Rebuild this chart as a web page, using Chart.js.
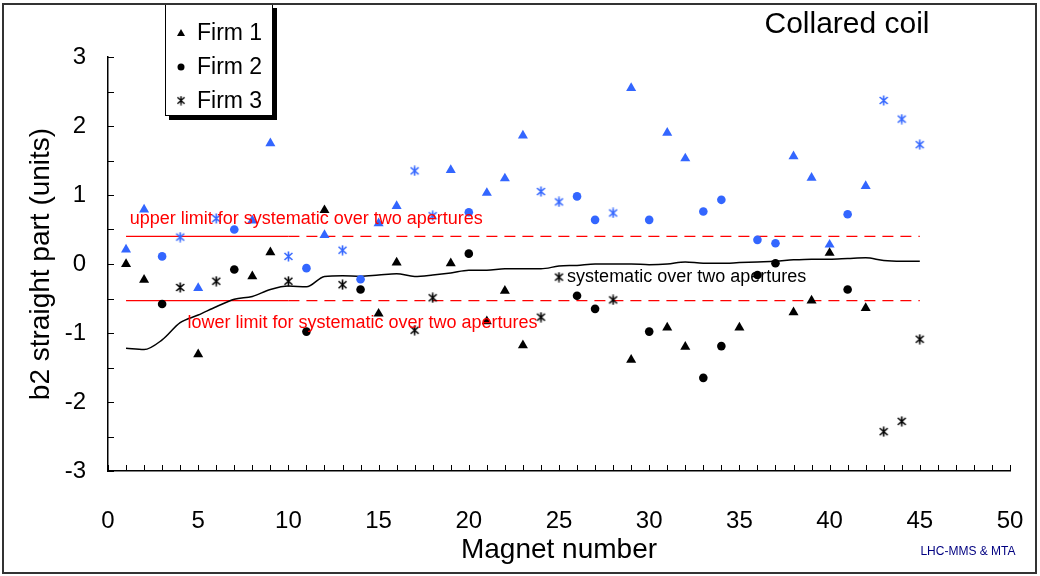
<!DOCTYPE html>
<html>
<head>
<meta charset="utf-8">
<script src="https://cdn.jsdelivr.net/npm/chart.js@4.4.1/dist/chart.umd.min.js"></script>
<style>
  html, body { margin: 0; padding: 0; background: #fff; }
  #wrap { position: relative; width: 1040px; height: 576px; }
</style>
</head>
<body>
<div id="wrap"><canvas id="chart" width="1040" height="576"></canvas></div>
<script>
// magnet numbers and which firm built each one
const magnets = [1,2,3,4,5,6,7,8,9,10,11,12,13,14,15,16,17,18,19,20,21,22,23,24,25,26,27,28,29,30,31,32,33,34,35,36,37,38,39,40,41,42,43,44,45];
const firmOf  = [1,1,2,3,1,3,2,1,1,3,2,1,3,2,1,1,3,3,1,2,1,1,1,3,3,2,2,3,1,2,1,1,2,2,1,2,2,1,1,1,2,1,3,3,3];

// b2 values, aperture 1 (black) and aperture 2 (blue)
const apertureBlack = [0,-0.23,-0.58,-0.34,-1.31,-0.25,-0.08,-0.18,0.17,-0.25,-0.98,0.78,-0.30,-0.37,-0.72,0.02,-0.96,-0.49,0.01,0.15,-0.83,-0.39,-1.18,-0.77,-0.19,-0.46,-0.65,-0.52,-1.39,-0.98,-0.92,-1.20,-1.65,-1.19,-0.92,-0.16,0.01,-0.70,-0.53,0.16,-0.37,-0.64,-2.43,-2.28,-1.09];
const apertureBlue  = [0.21,0.79,0.11,0.39,-0.35,0.66,0.50,0.63,1.75,0.11,-0.06,0.42,0.20,-0.22,0.59,0.84,1.35,0.70,1.36,0.75,1.03,1.24,1.86,1.05,0.90,0.98,0.64,0.74,2.55,0.64,1.90,1.53,0.76,0.93,null,0.35,0.30,1.56,1.25,0.28,0.72,1.13,2.37,2.10,1.73];

// running systematic over two apertures
const systematic = [-1.22,-1.24,-1.10,-0.85,-0.74,-0.62,-0.51,-0.47,-0.37,-0.32,-0.33,-0.18,-0.17,-0.18,-0.16,-0.14,-0.18,-0.16,-0.13,-0.09,-0.09,-0.07,-0.07,-0.07,-0.03,-0.02,0.00,0.00,0.00,-0.01,0.00,0.03,0.01,0.01,0.02,0.03,0.04,0.06,0.07,0.07,0.08,0.09,0.05,0.04,0.04];

// limits for the systematic (solid up to magnet 10, dashed after)
const upperLimit = 0.40;
const lowerLimit = -0.53;
const limitX = [1, 10, 45];

const firmNames = ['Firm 1', 'Firm 2', 'Firm 3'];
const yTicks = [-3, -2, -1, 0, 1, 2, 3];
const xTicks = [0, 5, 10, 15, 20, 25, 30, 35, 40, 45, 50];

const FONT = '"Liberation Sans", Arial, sans-serif';
const BLUE = '#3366ff';

function starMarker(color) {
  const c = document.createElement('canvas');
  c.width = 11; c.height = 11;
  const g = c.getContext('2d');
  g.strokeStyle = color;
  g.lineWidth = 1.6;
  g.beginPath();
  g.moveTo(1.5, 2); g.lineTo(9.5, 9);
  g.moveTo(9.5, 2); g.lineTo(1.5, 9);
  g.moveTo(5.5, 0.5); g.lineTo(5.5, 10.5);
  g.stroke();
  return c;
}
const starBlack = starMarker('#000');
const starBlue = starMarker(BLUE);

const styles = {
  1: { pointStyle: 'triangle', radius: 5.8 },
  2: { pointStyle: 'circle', radius: 4.3 },
  3: { pointStyle: null, radius: 5.5 }
};

function firmPoints(values, firm) {
  const pts = [];
  magnets.forEach((n, i) => {
    if (firmOf[i] === firm && values[i] !== null) pts.push({ x: n, y: values[i] });
  });
  return pts;
}

const datasets = [];
[1, 2, 3].forEach(f => {
  [['#000', apertureBlack, starBlack], [BLUE, apertureBlue, starBlue]].forEach(([col, vals, star]) => {
    datasets.push({
      label: firmNames[f - 1],
      data: firmPoints(vals, f),
      pointStyle: f === 3 ? star : styles[f].pointStyle,
      pointRadius: styles[f].radius,
      backgroundColor: col,
      borderColor: col,
      borderWidth: 0,
      showLine: false
    });
  });
});

datasets.push({
  label: 'systematic',
  data: magnets.map((n, i) => ({ x: n, y: systematic[i] })),
  showLine: true,
  borderColor: '#000',
  borderWidth: 1.5,
  pointRadius: 0,
  cubicInterpolationMode: 'monotone'
});

[upperLimit, lowerLimit].forEach(v => {
  datasets.push({
    label: 'limit',
    data: limitX.map(x => ({ x, y: v })),
    showLine: true,
    borderColor: '#ff0000',
    borderWidth: 1.2,
    pointRadius: 0,
    segment: { borderDash: ctx => ctx.p0.parsed.x >= 10 ? [11, 7] : [] }
  });
});

const decorPlugin = {
  id: 'decor',
  beforeDraw(chart) {
    const ctx = chart.ctx;
    ctx.save();
    ctx.fillStyle = '#fff';
    ctx.fillRect(0, 0, chart.width, chart.height);
    ctx.restore();
  },
  afterDraw(chart) {
    const { ctx, chartArea: { left, bottom }, scales: { x, y } } = chart;
    ctx.save();
    // inside tick marks
    ctx.strokeStyle = '#000';
    ctx.lineWidth = 1;
    ctx.beginPath();
    for (let v = -3; v <= 3; v += 0.5) {
      const py = Math.round(y.getPixelForValue(v)) + 0.5;
      ctx.moveTo(left, py); ctx.lineTo(left + 6, py);
    }
    for (let v = 0; v <= 50; v++) {
      const px = Math.round(x.getPixelForValue(v)) + 0.5;
      ctx.moveTo(px, bottom); ctx.lineTo(px, bottom - 6);
    }
    ctx.stroke();

    // annotations
    ctx.textBaseline = 'middle';
    ctx.textAlign = 'left';
    ctx.font = '18px ' + FONT;
    ctx.fillStyle = '#ff0000';
    ctx.fillText('upper limit for systematic over two apertures', x.getPixelForValue(1.2), y.getPixelForValue(0.65));
    ctx.fillText('lower limit for systematic over two apertures', x.getPixelForValue(4.4), y.getPixelForValue(-0.86));
    ctx.fillStyle = '#000';
    ctx.fillText('systematic over two apertures', x.getPixelForValue(25.45), y.getPixelForValue(-0.19));

    // title
    ctx.textAlign = 'center';
    ctx.font = '30px ' + FONT;
    ctx.fillText('Collared coil', 847, 25);

    // credit
    ctx.font = '12px ' + FONT;
    ctx.fillStyle = '#000080';
    ctx.fillText('LHC-MMS & MTA', 968, 552);

    // legend box with shadow
    ctx.fillStyle = '#000';
    ctx.fillRect(169, 8, 108, 112);
    ctx.fillStyle = '#fff';
    ctx.fillRect(165, 4, 108, 112);
    ctx.strokeStyle = '#000';
    ctx.lineWidth = 1;
    ctx.strokeRect(165.5, 4.5, 107, 111);
    const rows = [33, 67, 101];
    ctx.fillStyle = '#000';
    ctx.beginPath();
    ctx.moveTo(181, rows[0] - 4); ctx.lineTo(185, rows[0] + 3); ctx.lineTo(177, rows[0] + 3); ctx.closePath();
    ctx.fill();
    ctx.beginPath(); ctx.arc(181, rows[1], 3.5, 0, Math.PI * 2); ctx.fill();
    ctx.drawImage(starBlack, 176, rows[2] - 5.5, 10, 10);
    ctx.textAlign = 'left';
    ctx.font = '23px ' + FONT;
    firmNames.forEach((t, i) => ctx.fillText(t, 197, rows[i] + 1));

    // outer frame
    ctx.strokeStyle = '#333';
    ctx.lineWidth = 2;
    ctx.strokeRect(3, 4, 1033, 569);
    ctx.restore();
  }
};

new Chart(document.getElementById('chart'), {
  type: 'scatter',
  data: { datasets },
  options: {
    responsive: false,
    animation: false,
    devicePixelRatio: 1,
    layout: { padding: { top: 57, right: 30, left: 0, bottom: 0 } },
    plugins: { legend: { display: false }, tooltip: { enabled: false } },
    scales: {
      x: {
        type: 'linear',
        min: 0, max: 50,
        afterBuildTicks: s => { s.ticks = xTicks.map(v => ({ value: v })); },
        afterFit: s => { s.height = 105; },
        grid: { display: true, drawOnChartArea: false, drawTicks: true, tickLength: 34, tickColor: 'rgba(0,0,0,0)' },
        border: { color: '#000', width: 1.5 },
        ticks: { color: '#000', font: { size: 24, family: FONT }, padding: 2, maxRotation: 0 },
        title: { display: true, text: 'Magnet number', color: '#000', font: { size: 28, family: FONT }, padding: { top: 0, bottom: 9 } }
      },
      y: {
        min: -3, max: 3,
        afterBuildTicks: s => { s.ticks = yTicks.map(v => ({ value: v })); },
        afterFit: s => { s.width = 108; },
        grid: { display: true, drawOnChartArea: false, drawTicks: false },
        border: { color: '#000', width: 1.5 },
        ticks: { color: '#000', font: { size: 24, family: FONT }, padding: 22 },
        title: { display: true, text: 'b2 straight part (units)', color: '#000', font: { size: 28, family: FONT }, padding: { top: 24, bottom: 0 } }
      }
    }
  },
  plugins: [decorPlugin]
});
</script>
</body>
</html>
